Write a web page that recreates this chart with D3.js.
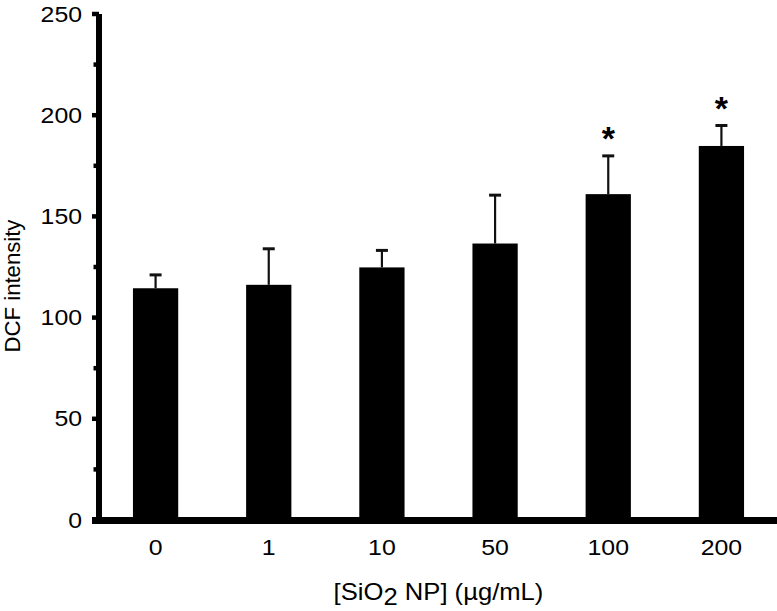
<!DOCTYPE html>
<html>
<head>
<meta charset="utf-8">
<script src="https://cdn.jsdelivr.net/npm/d3@7"></script>
<style>
  html, body { margin: 0; padding: 0; background: #fff; }
  svg { display: block; font-family: "Liberation Sans", Arial, Helvetica, sans-serif; }
</style>
</head>
<body>
<svg id="chart" width="777" height="611"></svg>
<script>
const categories = ["0", "1", "10", "50", "100", "200"];
const means      = [114.5, 116.2, 124.8, 136.6, 161.0, 184.8];
const errors     = [6.6, 17.8, 8.4, 23.9, 18.9, 10.1];
const significant = [false, false, false, false, true, true];
const yTicks     = [0, 50, 100, 150, 200, 250];
const yMinorTicks = [25, 75, 125, 175, 225];

const svg = d3.select("#chart");
const x = d3.scaleBand().domain(categories).range([99, 778]).paddingInner(0.6).paddingOuter(0.3);
const y = d3.scaleLinear().domain([0, 250]).range([520, 14]);

const fs = 22, sx = 1.13;

// bars
svg.append("g").selectAll("rect").data(categories).join("rect")
  .attr("x", d => x(d))
  .attr("width", x.bandwidth())
  .attr("y", (d, i) => y(means[i]))
  .attr("height", (d, i) => y(0) - y(means[i]))
  .attr("fill", "#000");

// error bars
const eb = svg.append("g").attr("stroke", "#111").attr("stroke-width", 2.2);
categories.forEach((c, i) => {
  const cx = x(c) + x.bandwidth() / 2;
  eb.append("line").attr("x1", cx).attr("x2", cx).attr("y1", y(means[i])).attr("y2", y(means[i] + errors[i]));
  eb.append("line").attr("x1", cx - 6).attr("x2", cx + 6).attr("y1", y(means[i] + errors[i])).attr("y2", y(means[i] + errors[i])).attr("stroke-width", 3);
});

// asterisks
svg.append("g").selectAll("text").data(categories.filter((c, i) => significant[i])).join("text")
  .attr("x", d => x(d) + x.bandwidth() / 2)
  .attr("y", d => { const i = categories.indexOf(d); return y(means[i] + errors[i]) - 24 + 18; })
  .attr("text-anchor", "middle")
  .attr("font-size", 34)
  .attr("font-weight", "bold")
  .text("*");

// y axis
const yAxis = d3.axisLeft(y).tickValues(yTicks).tickSize(0).tickPadding(15);
const gy = svg.append("g").attr("transform", "translate(99,0)").call(yAxis);
gy.select(".domain").remove();
gy.selectAll("text").attr("font-size", fs).attr("fill", "#000")
  .attr("font-family", "Liberation Sans, Arial, sans-serif").attr("transform", `scale(${sx},1)`);
svg.append("line").attr("x1", 99).attr("x2", 99).attr("y1", 14).attr("y2", 524).attr("stroke", "#000").attr("stroke-width", 6);
svg.append("g").selectAll("line").data(yTicks).join("line")
  .attr("x1", 92).attr("x2", 99).attr("y1", d => y(d)).attr("y2", d => y(d))
  .attr("stroke", "#000").attr("stroke-width", 4.5);
svg.append("g").selectAll("line").data(yMinorTicks).join("line")
  .attr("x1", 93.5).attr("x2", 99).attr("y1", d => y(d)).attr("y2", d => y(d))
  .attr("stroke", "#000").attr("stroke-width", 4.5);

// x axis
const xAxis = d3.axisBottom(x).tickSize(0).tickPadding(19);
const gx = svg.append("g").attr("transform", "translate(0,520)").call(xAxis);
gx.select(".domain").remove();
gx.selectAll("text").attr("font-size", fs).attr("fill", "#000")
  .attr("font-family", "Liberation Sans, Arial, sans-serif").attr("transform", `scale(${sx},1)`);
svg.append("line").attr("x1", 92).attr("x2", 777).attr("y1", 520.5).attr("y2", 520.5).attr("stroke", "#000").attr("stroke-width", 7);

// axis titles
const xt = svg.append("text").attr("text-anchor", "middle").attr("font-size", 23.5).attr("fill", "#000")
  .attr("transform", "translate(438.5,600) scale(1.09,1)");
xt.append("tspan").text("[SiO");
xt.append("tspan").attr("dy", 5).text("2");
xt.append("tspan").attr("dy", -5).text(" NP] (µg/mL)");

svg.append("text").attr("transform", "translate(20,286) rotate(-90) scale(1.03,1)").attr("text-anchor", "middle").attr("font-size", 21.5).attr("fill", "#000").text("DCF intensity");
</script>
</body>
</html>
